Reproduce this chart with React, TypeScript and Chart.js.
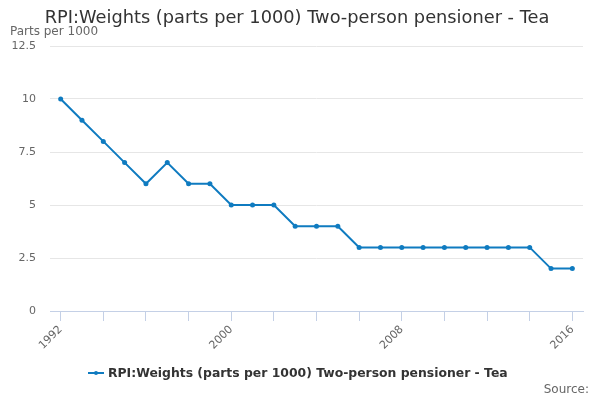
import React, { FC, useEffect, useRef } from "react";
import Chart from "chart.js/auto";

// RPI weights, parts per 1000, two-person pensioner households - tea
const years = [
  1992, 1993, 1994, 1995, 1996, 1997, 1998, 1999, 2000, 2001, 2002, 2003, 2004,
  2005, 2006, 2007, 2008, 2009, 2010, 2011, 2012, 2013, 2014, 2015, 2016,
];
const weights = [10, 9, 8, 7, 6, 7, 6, 6, 5, 5, 5, 4, 4, 4, 3, 3, 3, 3, 3, 3, 3, 3, 3, 2, 2];
const xTickYears = [1992, 1994, 1996, 1998, 2000, 2002, 2004, 2006, 2008, 2010, 2012, 2014, 2016];
const xLabelYears = [1992, 2000, 2008, 2016];
const yTicks = [0, 2.5, 5, 7.5, 10, 12.5];

const seriesName = "RPI:Weights (parts per 1000) Two-person pensioner - Tea";
const titleText = "RPI:Weights (parts per 1000) Two-person pensioner - Tea";
const unitText = "Parts per 1000";
const sourceText = "Source:";

const FONT = "'DejaVu Sans', sans-serif";
const LINE = "#0f7bc0";
const AXIS = "#c4d0e6";

// draws title, unit label, legend and source text
const textPlugin = {
  id: "textPlugin",
  afterDraw(chart: any) {
    const ctx = chart.ctx;
    ctx.save();
    ctx.textBaseline = "middle";

    ctx.fillStyle = "#333333";
    ctx.font = `17.8px ${FONT}`;
    ctx.textAlign = "center";
    ctx.fillText(titleText, 297, 18);

    ctx.fillStyle = "#666666";
    ctx.font = `12px ${FONT}`;
    ctx.textAlign = "left";
    ctx.fillText(unitText, 10, 32);

    // legend: line with a dot, then the series name
    const lx = 88;
    const ly = 373;
    ctx.strokeStyle = LINE;
    ctx.lineWidth = 2;
    ctx.beginPath();
    ctx.moveTo(lx, ly);
    ctx.lineTo(lx + 16, ly);
    ctx.stroke();
    ctx.fillStyle = LINE;
    ctx.beginPath();
    ctx.arc(lx + 8, ly, 2, 0, Math.PI * 2);
    ctx.fill();
    ctx.font = `bold 12.4px ${FONT}`;
    ctx.fillStyle = "#333333";
    ctx.fillText(seriesName, lx + 20, ly + 1);

    ctx.fillStyle = "#666666";
    ctx.font = `12px ${FONT}`;
    ctx.textAlign = "right";
    ctx.fillText(sourceText, 589, 390);
    ctx.restore();
  },
};

const App: FC = () => {
  const chartRef = useRef<HTMLCanvasElement>(null);

  useEffect(() => {
    if (!chartRef.current) return;
    const ctx = chartRef.current.getContext("2d");
    if (!ctx) return;

    const chart = new Chart(ctx, {
      type: "line",
      data: {
        datasets: [
          {
            label: seriesName,
            data: years.map((y, i) => ({ x: y, y: weights[i] })),
            borderColor: LINE,
            backgroundColor: LINE,
            borderWidth: 2,
            pointRadius: 2.5,
            pointBorderWidth: 0,
            pointHoverRadius: 3,
            tension: 0,
          },
        ],
      },
      options: {
        animation: false,
        responsive: false,
        devicePixelRatio: 1,
        layout: { padding: { left: 0, right: 17, top: 46, bottom: 0 } },
        plugins: {
          legend: { display: false },
          title: { display: false },
          tooltip: { enabled: false },
        },
        scales: {
          x: {
            type: "linear",
            min: 1991.5,
            max: 2016.5,
            afterBuildTicks: (scale: any) => {
              scale.ticks = xTickYears.map((v) => ({ value: v }));
            },
            afterFit: (scale: any) => {
              scale.height = 89;
            },
            ticks: {
              autoSkip: false,
              minRotation: 45,
              maxRotation: 45,
              padding: 2,
              color: "#666666",
              font: { family: FONT, size: 11 },
              callback: (v: any) => (xLabelYears.includes(Number(v)) ? String(v) : ""),
            },
            grid: {
              drawOnChartArea: false,
              drawTicks: true,
              tickLength: 10,
              color: AXIS,
              lineWidth: 1,
            },
            border: { display: true, color: AXIS, width: 1 },
          },
          y: {
            min: 0,
            max: 12.5,
            afterBuildTicks: (scale: any) => {
              scale.ticks = yTicks.map((v) => ({ value: v }));
            },
            afterFit: (scale: any) => {
              scale.width = 50;
            },
            ticks: {
              padding: 14,
              color: "#666666",
              font: { family: FONT, size: 11 },
              callback: (v: any) => String(v),
            },
            grid: {
              drawTicks: false,
              color: (c: any) => (c.tick && c.tick.value === 0 ? AXIS : "#e6e6e6"),
            },
            border: { display: false },
          },
        },
      },
      plugins: [textPlugin],
    });

    return () => {
      chart.destroy();
    };
  }, []);

  return (
    <div style={{ position: "fixed", left: 0, top: 0, width: 600, height: 400, background: "#ffffff" }}>
      <canvas ref={chartRef} width={600} height={400}></canvas>
    </div>
  );
};

export default App;
